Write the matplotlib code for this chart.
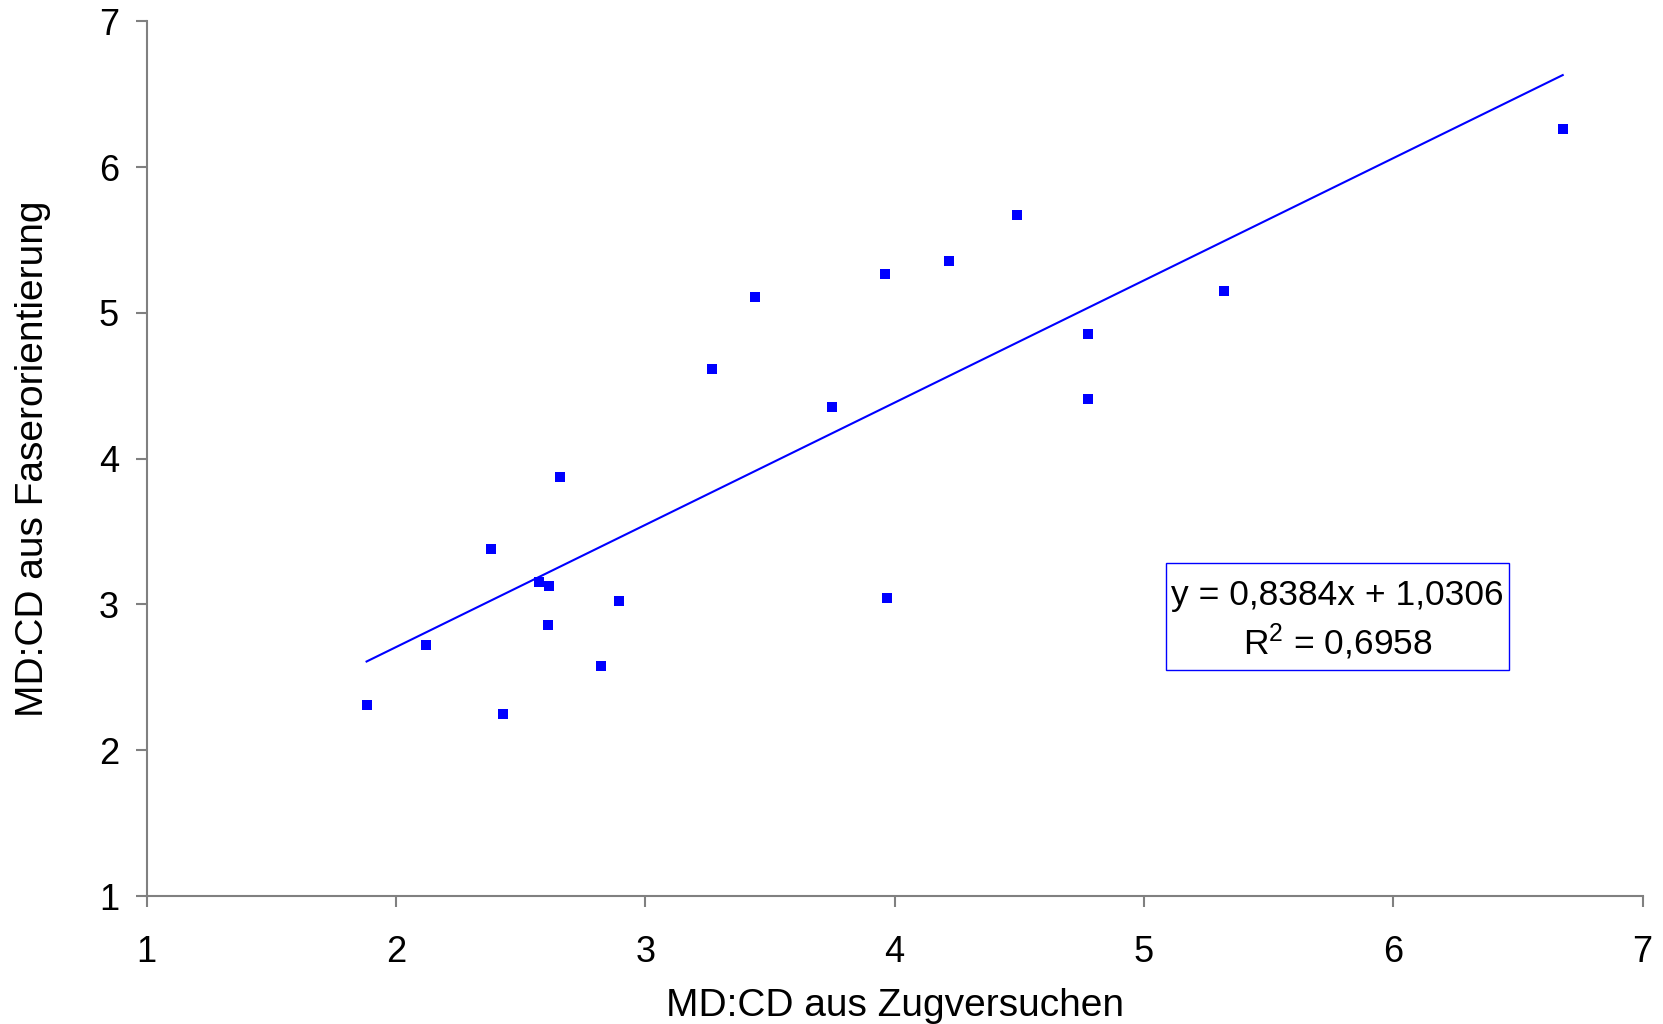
import numpy as np
import matplotlib.pyplot as plt
from matplotlib.patches import Rectangle

plt.rcParams['font.family'] = ['Liberation Sans', 'DejaVu Sans']

# MD:CD Verhältnis, Zugversuch vs. Faserorientierung
md_cd_zug = [1.882, 2.121, 2.381, 2.428, 2.572, 2.615, 2.611, 2.658, 2.824, 2.896,
             3.267, 3.442, 3.749, 3.962, 3.970, 4.217, 4.490, 4.776, 4.776, 5.321, 6.680]
md_cd_faser = [2.309, 2.724, 3.378, 2.251, 3.153, 3.124, 2.862, 3.873, 2.578, 3.022,
               4.615, 5.109, 4.353, 5.269, 3.044, 5.356, 5.669, 4.855, 4.411, 5.153, 6.258]

slope = 0.8384
intercept = 1.0306
r2 = 0.6958

fig = plt.figure(figsize=(16.63, 10.24), dpi=100)
ax = fig.add_axes([146.7/1663, 1-896/1024, (1642.5-146.7)/1663, (896-21.3)/1024])

ax.scatter(md_cd_zug, md_cd_faser, marker='s', s=62, color='#0000ff', linewidths=0, zorder=3)

xs = np.array([min(md_cd_zug), max(md_cd_zug)])
ax.plot(xs, slope*xs + intercept, color='#0000ff', lw=1.5)

ax.set_xlim(1, 7)
ax.set_ylim(1, 7)
ax.set_xticks(range(1, 8))
ax.set_yticks(range(1, 8))

for s in ['top', 'right']:
    ax.spines[s].set_visible(False)
for s in ['left', 'bottom']:
    ax.spines[s].set_color('#808080')
    ax.spines[s].set_linewidth(1.5)
ax.tick_params(direction='out', length=8, width=1.5, color='#808080', labelsize=26)
ax.tick_params(axis='x', pad=20)
ax.tick_params(axis='y', pad=12)

ax.set_xlabel('MD:CD aus Zugversuchen', fontsize=28, labelpad=13)
ax.set_ylabel('MD:CD aus Faserorientierung', fontsize=28, labelpad=34)

# Regressionsgleichung mit Rahmen
txt = 'y = %s' % ('%.4fx + %.4f' % (slope, intercept)).replace('.', ',') + \
      '\n$\\mathregular{R^2}$ = ' + ('%.4f' % r2).replace('.', ',')
ax.text(5.777, 2.889, txt, fontsize=25.5, ha='center', va='center', linespacing=1.3)
ax.add_patch(Rectangle((5.089, 2.551), 1.376, 0.734, fill=False, ec='#0000ff', lw=1))

fig.savefig('out.png', dpi=100)
